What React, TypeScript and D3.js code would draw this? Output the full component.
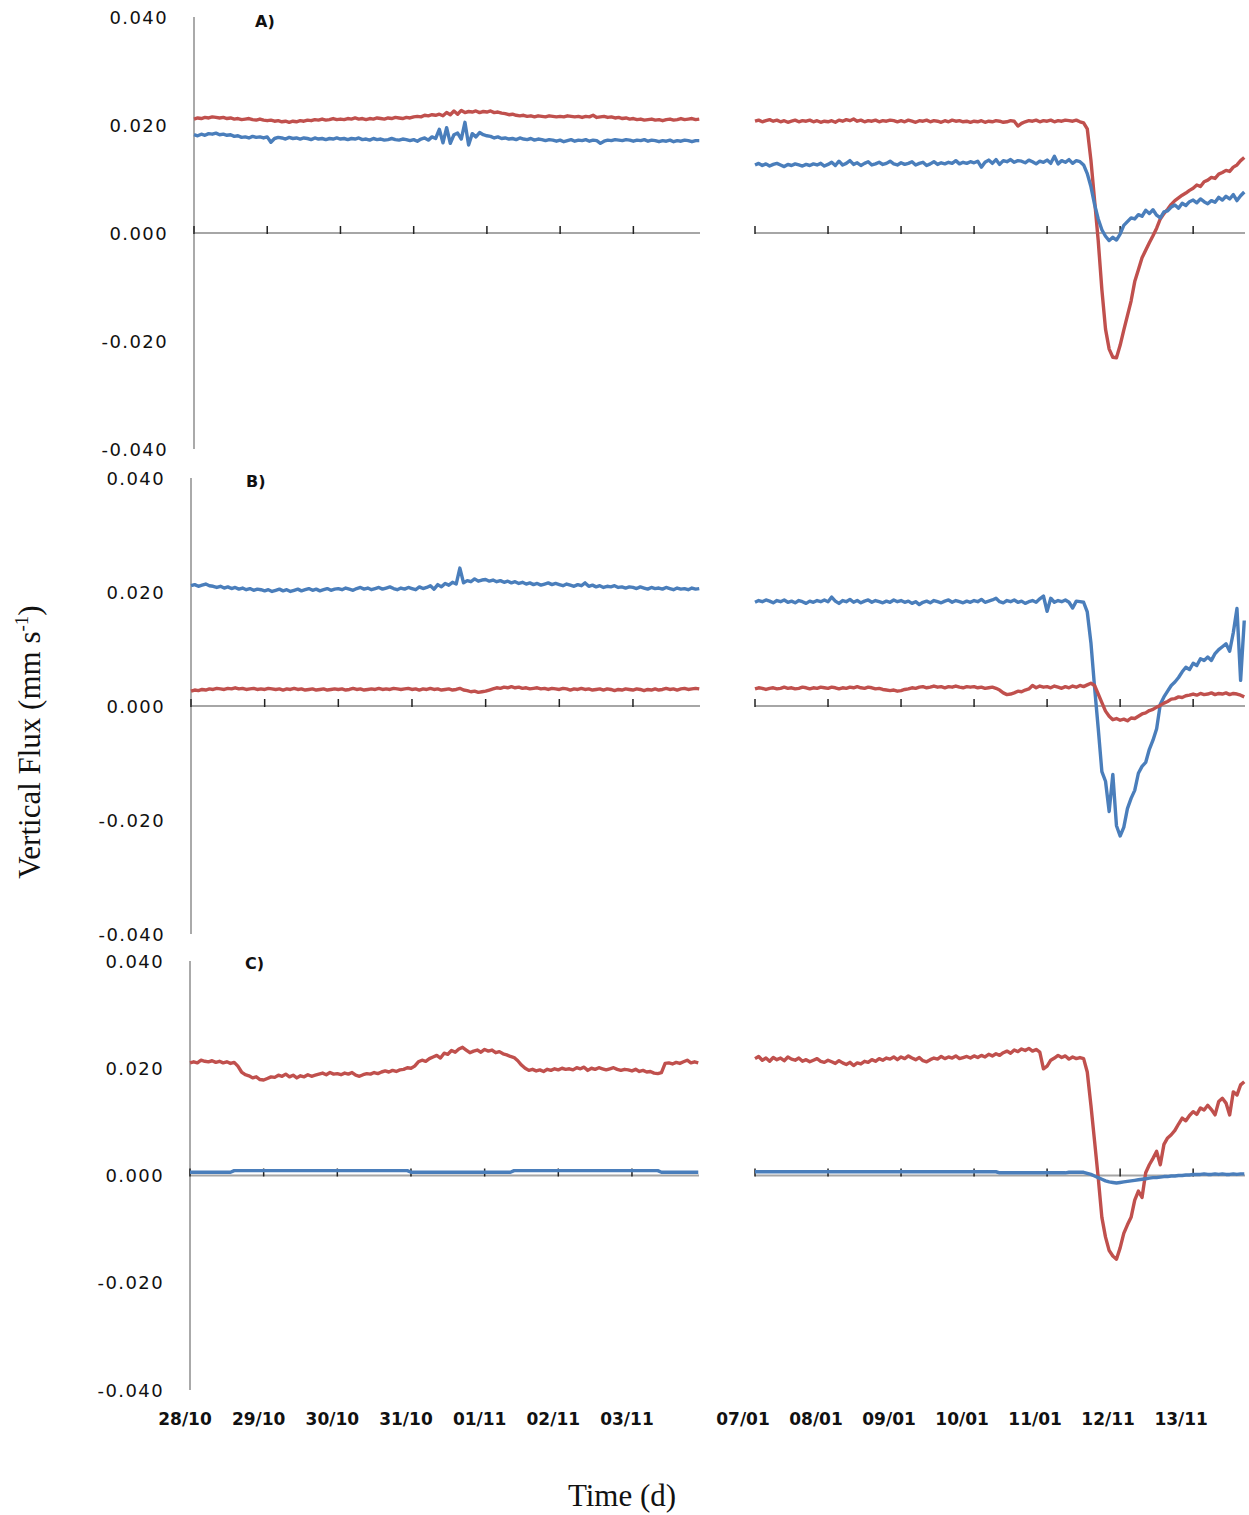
import * as d3 from "d3";
import * as React from "react";

// vertical flux values are in 10^-3 mm/s, sampled every 0.05 d
const step = 0.05;
const leftDates = ["28/10", "29/10", "30/10", "31/10", "01/11", "02/11", "03/11"];
const rightDates = ["07/01", "08/01", "09/01", "10/01", "11/01", "12/11", "13/11"];
const yTicks = [-40, -20, 0, 20, 40];

// A) left
const aLeftRed = [
  21.1, 21.3, 21.2, 21.4, 21.3, 21.5, 21.4, 21.3, 21.4, 21.2, 21.3, 21.1, 21.2, 21.0, 21.1, 21.2, 21.0, 20.9, 21.1, 20.9,
  20.8, 20.9, 20.7, 20.8, 20.6, 20.7, 20.5, 20.7, 20.6, 20.8, 20.7, 20.9, 20.8, 21.0, 20.9, 21.1, 20.9, 21.0, 21.2, 21.0,
  21.1, 21.0, 21.2, 21.1, 21.3, 21.1, 21.2, 21.0, 21.2, 21.1, 21.3, 21.2, 21.1, 21.3, 21.2, 21.4, 21.3, 21.2, 21.4, 21.3,
  21.5, 21.6, 21.5, 21.8, 21.7, 21.9, 21.8, 22.0, 21.7, 22.3, 21.9, 22.6, 22.0, 22.7, 22.3, 22.5, 22.4, 22.6, 22.3, 22.5,
  22.4, 22.6, 22.3, 22.4, 22.2, 22.1, 21.9, 22.0, 21.8, 21.7, 21.8, 21.6, 21.7, 21.5, 21.7, 21.6, 21.5, 21.7, 21.6, 21.5,
  21.6, 21.5, 21.7, 21.6, 21.5, 21.6, 21.4, 21.6, 21.5, 21.8, 21.4, 21.5, 21.6, 21.4, 21.5, 21.3, 21.4, 21.2, 21.3, 21.1,
  21.2, 21.0, 21.1, 20.9, 21.0, 21.1, 20.9, 21.0, 20.8, 21.0, 21.1, 20.9, 21.0, 21.2, 21.0, 21.1, 21.2, 21.0, 21.1,
];
const aLeftBlue = [
  18.2, 18.0, 18.3, 18.1, 18.4, 18.3, 18.5, 18.2, 18.3, 18.1, 18.2, 17.9, 18.0, 17.7, 17.8, 17.6, 17.9, 17.7, 17.8, 17.6,
  17.8, 16.8, 17.5, 17.7, 17.6, 17.4, 17.7, 17.5, 17.6, 17.4, 17.6, 17.5, 17.3, 17.6, 17.4, 17.5, 17.3, 17.5, 17.4, 17.6,
  17.4, 17.5, 17.3, 17.5, 17.4, 17.6, 17.3, 17.4, 17.2, 17.5, 17.3, 17.4, 17.2, 17.3, 17.5, 17.3, 17.2, 17.4, 17.3, 17.1,
  17.3, 17.0, 17.4, 17.6, 17.2, 17.8, 17.5, 19.2, 16.7, 19.5, 16.6, 18.2, 18.5, 17.4, 20.5, 16.3, 18.4, 17.8, 18.6, 18.2,
  18.0, 17.9, 17.6, 17.8, 17.5, 17.6, 17.4, 17.5, 17.3, 17.6, 17.4, 17.3, 17.5, 17.2, 17.4, 17.3, 17.1, 17.3, 17.2, 17.0,
  17.2, 16.9, 17.1, 17.3, 17.0, 17.2, 17.1, 17.3, 17.0, 17.2, 17.1, 16.6, 17.0, 17.2, 17.1, 17.3, 17.2, 17.1, 17.3, 17.2,
  17.0, 17.2, 17.1, 17.3, 17.0, 17.2, 17.1, 16.9, 17.1, 17.0, 17.2, 16.9, 17.1, 17.0, 17.2, 17.1, 16.9, 17.1, 17.1,
];
// A) right
const aRightRed = [
  20.7, 20.9, 20.6, 20.8, 21.0, 20.7, 20.9, 20.6, 20.8, 20.5, 20.7, 20.9, 20.6, 20.8, 20.7, 20.9, 20.6, 20.8, 20.5, 20.7,
  20.6, 20.8, 20.5, 20.9, 20.7, 21.0, 20.8, 21.1, 20.7, 20.9, 20.6, 20.8, 20.7, 20.9, 20.6, 20.8, 20.7, 20.9, 20.8, 20.6,
  20.8, 20.6, 20.9, 20.7, 20.5, 20.8, 20.7, 20.9, 20.6, 20.8, 20.7, 20.5, 20.8, 20.6, 20.9, 20.7, 20.8, 20.6, 20.7, 20.5,
  20.7, 20.6, 20.8, 20.5, 20.7, 20.6, 20.8, 20.7, 20.5, 20.6, 20.8, 20.7, 19.8, 20.3, 20.6, 20.8, 20.7, 20.9, 20.6, 20.8,
  20.7, 20.9, 20.6, 20.8, 20.7, 20.9, 20.8, 20.7, 20.9, 20.6, 20.4, 19.3, 13.5, 6.1, -1.4, -10.5, -17.8, -21.5, -23.0, -23.1,
  -20.8, -18.0, -15.3, -12.6, -9.0, -6.8, -4.6, -3.2, -1.8, -0.5, 0.9, 2.6, 3.6, 4.4, 5.3, 6.0, 6.5, 7.0, 7.4, 7.9,
  8.3, 8.9, 8.6, 9.5, 9.8, 10.3, 10.1, 10.9, 11.2, 11.6, 11.4, 12.2, 12.6, 13.4, 14.0,
];
const aRightBlue = [
  12.6, 12.9, 12.5, 12.8, 12.4, 12.7, 12.9, 12.6, 12.3, 12.7, 12.5, 12.8, 12.6, 12.4, 12.7, 12.5, 12.8, 12.6, 12.9, 12.4,
  12.7, 13.1, 12.5, 13.3, 12.6, 12.9, 13.4, 12.7, 13.0, 12.5, 12.9, 13.2, 12.6, 12.8, 13.1, 12.7, 12.9, 13.3, 12.8, 12.6,
  13.0, 12.7, 12.9, 13.2, 12.6, 12.9, 13.1, 12.5, 12.8, 13.2, 12.7, 13.0, 12.8, 13.1, 12.9, 13.4, 12.8, 13.1, 12.9, 13.2,
  13.0, 13.3, 12.2, 13.1, 13.5, 12.9, 13.6, 12.7, 13.4, 13.2, 13.6, 13.1, 13.4, 13.3, 13.0, 13.5, 13.2, 12.8, 13.3, 13.1,
  13.5, 12.9, 14.2, 12.8, 13.4, 13.1, 13.6, 12.9, 13.4, 13.2, 12.6, 11.0, 8.6, 5.3, 2.6, 0.6, -0.6, -1.4, -0.8, -1.3,
  -0.2, 1.4, 2.1, 2.8, 2.6, 3.4, 3.1, 4.2, 3.6, 4.3, 3.3, 2.8, 3.9, 4.1, 4.8, 5.2, 4.6, 5.5, 5.1, 5.8,
  6.1, 5.6, 6.3, 5.8, 5.4, 6.0, 5.7, 6.6, 6.1, 6.8, 6.3, 7.1, 6.0, 6.9, 7.6,
];

// B) left
const bLeftRed = [
  2.6, 2.8, 2.7, 2.9, 2.8, 3.0, 2.9, 3.1, 3.0, 2.9, 3.1, 3.0, 3.2, 3.0, 3.1, 2.9, 3.0, 3.1, 2.9, 3.0,
  2.9, 3.1, 3.0, 2.9, 3.0, 2.8, 3.0, 2.9, 3.1, 2.9, 3.0, 2.8, 2.9, 3.0, 2.8, 2.9, 3.0, 2.8, 2.9, 3.0,
  2.9, 3.0, 2.8, 2.9, 3.1, 2.9, 3.0, 2.8, 2.9, 3.0, 2.9, 3.1, 2.9, 3.0, 2.9, 3.1, 3.0, 2.9, 3.0, 3.1,
  2.9, 3.0, 2.8, 3.0, 2.9, 3.1, 2.9, 3.0, 2.8, 2.9, 3.0, 2.8, 2.9, 3.1, 2.8, 2.7, 2.5, 2.6, 2.4, 2.5,
  2.6, 2.8, 3.0, 3.2, 3.1, 3.3, 3.2, 3.4, 3.2, 3.3, 3.1, 3.2, 3.0, 3.1, 3.2, 3.0, 3.1, 2.9, 3.1, 3.0,
  2.9, 3.1, 3.0, 2.8, 3.0, 2.9, 3.1, 2.9, 3.0, 2.8, 2.9, 3.0, 2.8, 3.0, 2.9, 2.7, 2.9, 2.8, 3.0, 2.9,
  2.8, 3.0, 2.9, 2.7, 2.9, 2.8, 3.0, 2.8, 2.9, 3.1, 2.9, 3.0, 2.8, 3.0, 3.1, 2.9, 3.0, 3.1, 3.0,
];
const bLeftBlue = [
  21.1, 21.3, 21.0, 21.2, 21.4, 21.1, 21.0, 20.8, 21.0, 20.7, 20.9, 20.6, 20.8, 20.5, 20.7, 20.4, 20.6, 20.3, 20.5, 20.4,
  20.2, 20.4, 20.1, 20.3, 20.5, 20.2, 20.4, 20.1, 20.3, 20.5, 20.2, 20.4, 20.6, 20.3, 20.5, 20.2, 20.4, 20.6, 20.3, 20.5,
  20.6, 20.4, 20.7, 20.5, 20.3, 20.6, 20.8, 20.5, 20.7, 20.4, 20.6, 20.8, 20.5, 20.7, 20.9, 20.6, 20.4, 20.7, 20.5, 20.8,
  20.6, 20.4, 20.9, 20.6, 20.8, 21.1, 20.5, 21.3, 20.9, 21.5, 21.2, 21.7, 21.4, 24.2, 21.6, 22.0, 21.8, 22.3, 21.9, 22.1,
  22.2, 21.9, 22.1, 21.8, 22.0, 21.7, 21.9, 21.6, 21.8, 21.5, 21.7, 21.4, 21.6, 21.3, 21.5, 21.2, 21.4, 21.6, 21.3, 21.5,
  21.3, 21.1, 21.4, 21.2, 21.0, 21.3, 21.1, 21.6, 21.0, 21.2, 20.9, 21.1, 20.8, 21.0, 20.9, 21.1, 20.8, 20.9, 20.7, 20.9,
  20.8, 20.6, 20.9, 20.7, 20.5, 20.8, 20.6, 20.7, 20.5, 20.8, 20.6, 20.4, 20.7, 20.5, 20.6, 20.4, 20.7, 20.5, 20.6,
];
// B) right
const bRightRed = [
  3.0, 3.2, 3.1, 2.9, 3.1, 3.2, 3.0, 3.1, 3.3, 3.1, 3.2, 3.0, 3.1, 3.3, 3.2, 3.0, 3.2, 3.1, 3.3, 3.2,
  3.1, 3.3, 3.2, 3.0, 3.2, 3.1, 3.3, 3.2, 3.4, 3.2, 3.1, 3.3, 3.2, 3.0, 3.1, 2.9, 2.8, 2.7, 2.8, 2.6,
  2.7, 2.9, 3.0, 3.2, 3.1, 3.3, 3.4, 3.2, 3.3, 3.5, 3.3, 3.4, 3.2, 3.4, 3.3, 3.5, 3.3, 3.2, 3.4, 3.3,
  3.4, 3.2, 3.3, 3.1, 3.2, 3.3, 3.1, 2.8, 2.3, 2.0, 2.1, 2.3, 2.6, 2.5, 2.8, 3.0, 3.6, 3.2, 3.5, 3.3,
  3.4, 3.2, 3.5, 3.3, 3.1, 3.4, 3.2, 3.5, 3.3, 3.6, 3.4, 3.7, 4.0, 3.6, 2.1, 0.6, -0.9, -1.8, -2.4, -2.2,
  -2.5, -2.3, -2.6, -2.1, -2.2, -1.8, -1.4, -1.2, -0.8, -0.6, -0.2, 0.1, 0.5, 0.8, 1.2, 1.3, 1.6, 1.5, 1.8, 1.9,
  2.1, 1.9, 2.2, 2.0, 2.1, 2.3, 2.0, 2.2, 2.1, 2.3, 2.0, 2.2, 2.1, 1.9, 1.6,
];
const bRightBlue = [
  18.2, 18.5, 18.3, 18.6, 18.4, 18.1, 18.5, 18.3, 18.6, 18.2, 18.4, 18.1, 18.5, 18.3, 18.0, 18.4, 18.2, 18.5, 18.3, 18.6,
  18.3, 19.1, 18.4, 18.0, 18.5, 18.3, 18.7, 18.2, 18.5, 18.1, 18.4, 18.6, 18.2, 18.5, 18.3, 18.1, 18.4, 18.2, 18.6, 18.3,
  18.5, 18.2, 18.4, 18.0, 18.3, 17.8, 18.2, 18.4, 18.1, 18.5, 18.3, 18.1, 18.4, 18.6, 18.2, 18.5, 18.3, 18.1, 18.4, 18.2,
  18.5, 18.3, 18.7, 18.2, 18.4, 18.6, 18.9, 18.3, 18.1, 18.5, 18.3, 18.6, 18.2, 18.4, 18.0, 18.3, 18.5, 18.2, 18.8, 19.3,
  16.6, 18.9, 18.2, 18.5, 18.3, 18.6, 18.2, 17.2, 18.4, 18.3, 18.2, 16.5, 11.1, 3.3, -3.9, -11.5, -13.2, -18.5, -12.0, -21.0,
  -22.8, -21.3, -18.0, -16.2, -14.8, -11.8, -10.6, -9.9, -7.6, -6.0, -4.0, 0.3, 1.6, 2.6, 3.6, 4.2, 5.0, 6.0, 6.8, 6.4,
  7.5, 7.1, 8.3, 8.0, 8.6, 8.0, 9.2, 9.9, 10.4, 10.9, 9.6, 12.9, 17.1, 4.5, 15.0,
];

// C) left
const cLeftRed = [
  21.0, 21.2, 21.0, 21.5, 21.3, 21.2, 21.4, 21.1, 21.3, 21.0, 21.2, 20.9, 21.1, 20.4, 19.3, 18.8, 18.6, 18.2, 18.4, 17.9,
  17.8, 18.1, 18.4, 18.3, 18.7, 18.5, 18.9, 18.4, 18.7, 18.2, 18.6, 18.4, 18.8, 18.5, 18.7, 18.9, 19.1, 18.8, 19.2, 18.9,
  19.0, 18.8, 19.1, 18.9, 19.2, 18.7, 18.5, 18.8, 19.0, 18.9, 19.2, 19.0, 19.3, 19.5, 19.3, 19.6, 19.4, 19.7, 19.8, 20.1,
  20.0, 20.4, 21.2, 21.5, 21.3, 21.8, 22.1, 22.4, 21.9, 22.8, 22.6, 23.3, 23.0, 23.6, 23.9, 23.4, 22.9, 23.2, 23.4, 23.0,
  23.5, 23.2, 23.4, 22.9, 23.1, 22.7, 22.5, 22.2, 22.0, 21.4, 20.6, 20.0, 19.6, 19.8, 19.5, 19.7, 19.4, 19.8, 19.6, 19.9,
  19.7, 20.0, 19.8, 19.9, 19.7, 20.1, 19.9, 20.2, 19.6, 20.0, 19.8, 20.1, 19.9, 19.7, 19.9, 20.1, 19.8, 19.6, 19.8, 19.7,
  19.5, 19.8, 19.4, 19.6, 19.3, 19.4, 19.1, 19.0, 19.2, 20.9, 21.0, 20.8, 21.1, 20.9, 21.2, 21.5, 21.0, 21.2, 21.0,
];
const cLeftBlue = [
  0.6, 0.6, 0.6, 0.6, 0.6, 0.6, 0.6, 0.6, 0.6, 0.6, 0.6, 0.6, 0.9, 0.9, 0.9, 0.9, 0.9, 0.9, 0.9, 0.9,
  0.9, 0.9, 0.9, 0.9, 0.9, 0.9, 0.9, 0.9, 0.9, 0.9, 0.9, 0.9, 0.9, 0.9, 0.9, 0.9, 0.9, 0.9, 0.9, 0.9,
  0.9, 0.9, 0.9, 0.9, 0.9, 0.9, 0.9, 0.9, 0.9, 0.9, 0.9, 0.9, 0.9, 0.9, 0.9, 0.9, 0.9, 0.9, 0.9, 0.9,
  0.6, 0.6, 0.6, 0.6, 0.6, 0.6, 0.6, 0.6, 0.6, 0.6, 0.6, 0.6, 0.6, 0.6, 0.6, 0.6, 0.6, 0.6, 0.6, 0.6,
  0.6, 0.6, 0.6, 0.6, 0.6, 0.6, 0.6, 0.6, 0.9, 0.9, 0.9, 0.9, 0.9, 0.9, 0.9, 0.9, 0.9, 0.9, 0.9, 0.9,
  0.9, 0.9, 0.9, 0.9, 0.9, 0.9, 0.9, 0.9, 0.9, 0.9, 0.9, 0.9, 0.9, 0.9, 0.9, 0.9, 0.9, 0.9, 0.9, 0.9,
  0.9, 0.9, 0.9, 0.9, 0.9, 0.9, 0.9, 0.9, 0.6, 0.6, 0.6, 0.6, 0.6, 0.6, 0.6, 0.6, 0.6, 0.6, 0.6,
];
// C) right
const cRightRed = [
  21.8, 22.2, 21.5, 21.9, 21.3, 22.0, 21.6, 21.9, 21.4, 22.1, 21.7, 21.5, 21.9, 21.3, 21.6, 21.2, 21.5, 21.8, 21.3, 21.1,
  21.5, 21.2, 20.9, 21.4, 21.0, 20.7, 21.1, 20.5, 21.0, 20.8, 21.3, 21.1, 21.6, 21.3, 21.8, 21.5, 21.9, 21.7, 22.1, 21.6,
  22.1, 21.8, 22.3, 21.9, 21.6, 22.0, 21.4, 21.2, 21.6, 21.9, 21.7, 22.2, 21.8, 22.1, 21.9, 22.3, 21.8, 22.0, 22.2, 21.9,
  22.3, 22.0, 22.4, 22.1, 22.6, 22.3, 22.7, 22.4, 22.9, 23.2, 22.8, 23.4, 23.1, 23.6, 23.3, 23.7, 23.2, 23.5, 23.0, 19.9,
  20.4, 21.5, 21.9, 22.4, 22.0, 22.3, 21.7, 22.1, 21.8, 22.0, 21.8, 19.3, 13.1, 6.4, -0.4, -7.8, -11.5, -14.0, -15.0, -15.6,
  -13.5, -10.8, -9.2, -7.8, -4.6, -2.9, -4.1, 0.5, 2.0, 3.2, 4.5, 2.0, 5.8, 7.0, 7.6, 8.4, 9.6, 10.7, 10.2, 11.2,
  11.9, 11.4, 12.6, 12.2, 13.1, 12.3, 11.3, 13.8, 14.4, 13.5, 11.3, 15.6, 15.0, 16.9, 17.5,
];
const cRightBlue = [
  0.7, 0.7, 0.7, 0.7, 0.7, 0.7, 0.7, 0.7, 0.7, 0.7, 0.7, 0.7, 0.7, 0.7, 0.7, 0.7, 0.7, 0.7, 0.7, 0.7,
  0.7, 0.7, 0.7, 0.7, 0.7, 0.7, 0.7, 0.7, 0.7, 0.7, 0.7, 0.7, 0.7, 0.7, 0.7, 0.7, 0.7, 0.7, 0.7, 0.7,
  0.7, 0.7, 0.7, 0.7, 0.7, 0.7, 0.7, 0.7, 0.7, 0.7, 0.7, 0.7, 0.7, 0.7, 0.7, 0.7, 0.7, 0.7, 0.7, 0.7,
  0.7, 0.7, 0.7, 0.7, 0.7, 0.7, 0.7, 0.5, 0.5, 0.5, 0.5, 0.5, 0.5, 0.5, 0.5, 0.5, 0.5, 0.5, 0.5, 0.5,
  0.5, 0.5, 0.5, 0.5, 0.5, 0.5, 0.6, 0.6, 0.6, 0.6, 0.6, 0.4, 0.2, -0.1, -0.4, -0.7, -1.0, -1.2, -1.3, -1.4,
  -1.3, -1.2, -1.1, -1.0, -0.9, -0.8, -0.7, -0.6, -0.5, -0.4, -0.4, -0.3, -0.2, -0.2, -0.1, -0.1, 0.0, 0.0, 0.1, 0.1,
  0.2, 0.2, 0.2, 0.3, 0.2, 0.2, 0.3, 0.2, 0.3, 0.2, 0.2, 0.3, 0.2, 0.3, 0.3,
];

const RED = "#C0504D";
const BLUE = "#4A7EBB";
const redSeries = [aLeftRed, aRightRed, bLeftRed, bRightRed, cLeftRed, cRightRed];

const panels = [
  { name: "A)", top: 17, bottom: 449, axisX: 194, labelX: 255, labelY: 27, tickRight: 168, leftEnd: 700,
    left: [aLeftRed, aLeftBlue], right: [aRightRed, aRightBlue] },
  { name: "B)", top: 478, bottom: 934, axisX: 191, labelX: 246, labelY: 487, tickRight: 165, leftEnd: 700,
    left: [bLeftBlue, bLeftRed], right: [bRightBlue, bRightRed] },
  { name: "C)", top: 961, bottom: 1390, axisX: 190, labelX: 245, labelY: 969, tickRight: 164, leftEnd: 699,
    left: [cLeftRed, cLeftBlue], right: [cRightRed, cRightBlue] },
];

const leftSpan = 6.91;
const rightSpan = 6.71;
const rightStart = 755;
const rightEnd = 1245;

function Panel({ p }: { p: (typeof panels)[number] }) {
  const y = d3.scaleLinear().domain([-40, 40]).range([p.bottom, p.top]);
  const xl = d3.scaleLinear().domain([0, leftSpan]).range([p.axisX, p.leftEnd]);
  const xr = d3.scaleLinear().domain([0, rightSpan]).range([rightStart, rightEnd]);
  const mk = (x: d3.ScaleLinear<number, number>) =>
    d3.line<number>().x((_, i) => x(i * step)).y((d) => y(d));
  const lineL = mk(xl);
  const lineR = mk(xr);
  const y0 = y(0);
  const colorOf = (arr: number[]) => (redSeries.includes(arr) ? RED : BLUE);
  return (
    <g>
      {/* y axis */}
      <line x1={p.axisX} x2={p.axisX} y1={p.top} y2={p.bottom} stroke="#8e8e8e" strokeWidth={1.5} />
      {yTicks.map((t) => (
        <text key={t} x={p.tickRight} y={y(t)} textAnchor="end" dominantBaseline="central"
          fontFamily="DejaVu Sans, Verdana, sans-serif" fontSize={18} letterSpacing={1.4} fill="#111">
          {(t / 1000).toFixed(3)}
        </text>
      ))}
      {/* zero lines */}
      <line x1={p.axisX} x2={p.leftEnd} y1={y0} y2={y0} stroke="#a6a6a6" strokeWidth={2} />
      <line x1={rightStart} x2={rightEnd} y1={y0} y2={y0} stroke="#a6a6a6" strokeWidth={2} />
      {leftDates.map((_, i) => (
        <line key={"tl" + i} x1={xl(i)} x2={xl(i)} y1={y0 - 7} y2={y0 + 1} stroke="#222" strokeWidth={1.5} />
      ))}
      {rightDates.map((_, i) => (
        <line key={"tr" + i} x1={xr(i)} x2={xr(i)} y1={y0 - 7} y2={y0 + 1} stroke="#222" strokeWidth={1.5} />
      ))}
      {p.left.map((s, i) => (
        <path key={"l" + i} d={lineL(s) || ""} fill="none" stroke={colorOf(s)} strokeWidth={3.4} strokeLinejoin="round" />
      ))}
      {p.right.map((s, i) => (
        <path key={"r" + i} d={lineR(s) || ""} fill="none" stroke={colorOf(s)} strokeWidth={3.4} strokeLinejoin="round" />
      ))}
      <text x={p.labelX} y={p.labelY} fontFamily="DejaVu Sans, Verdana, sans-serif" fontSize={16} fontWeight="bold" fill="#111">
        {p.name}
      </text>
    </g>
  );
}

export default function App() {
  const last = panels[2];
  const xl = d3.scaleLinear().domain([0, leftSpan]).range([last.axisX, last.leftEnd]);
  const xr = d3.scaleLinear().domain([0, rightSpan]).range([rightStart, rightEnd]);
  const dateFont = "DejaVu Sans, Verdana, sans-serif";
  return (
    <svg width={1249} height={1515} style={{ position: "absolute", left: 0, top: 0, background: "#fff" }}>
      <rect width={1249} height={1515} fill="#fff" />
      {panels.map((p) => (
        <Panel key={p.name} p={p} />
      ))}
      {leftDates.map((d, i) => (
        <text key={d} x={xl(i) - 5} y={1425} textAnchor="middle" fontFamily={dateFont} fontSize={17} fontWeight="bold" fill="#111">
          {d}
        </text>
      ))}
      {rightDates.map((d, i) => (
        <text key={d} x={xr(i) - 12} y={1425} textAnchor="middle" fontFamily={dateFont} fontSize={17} fontWeight="bold" fill="#111">
          {d}
        </text>
      ))}
      <text x={622} y={1506} textAnchor="middle" fontFamily="Liberation Serif, Times New Roman, serif" fontSize={31} fill="#111">
        Time (d)
      </text>
      <text transform="translate(40,742) rotate(-90)" textAnchor="middle"
        fontFamily="Liberation Serif, Times New Roman, serif" fontSize={31} fill="#111">
        Vertical Flux (mm s<tspan dy={-12} fontSize={19}>-1</tspan><tspan dy={12}>)</tspan>
      </text>
    </svg>
  );
}
